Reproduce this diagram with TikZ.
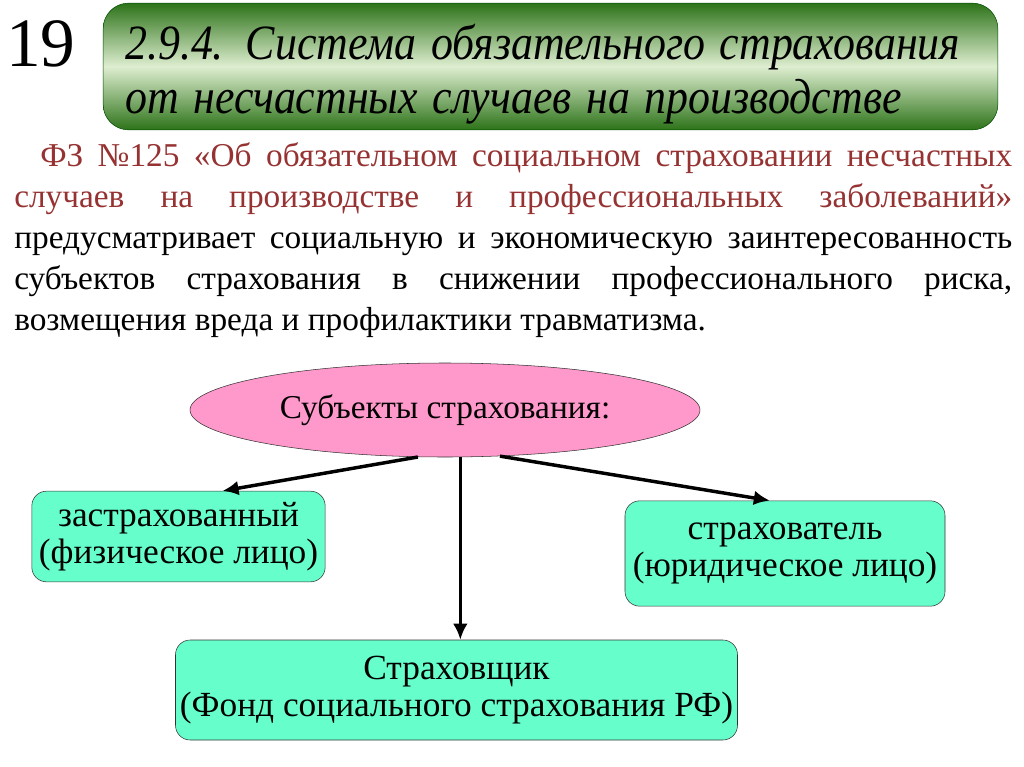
\documentclass[tikz,border=0pt]{standalone}
\usepackage{fontspec}
\setmainfont{Liberation Serif}
\usetikzlibrary{arrows.meta,positioning,shapes.geometric}
\definecolor{fzred}{RGB}{150,50,50}
\definecolor{boxaqua}{RGB}{102,255,204}
\definecolor{ellpink}{RGB}{255,153,204}
\definecolor{dkgreen}{RGB}{45,115,25}
\definecolor{ltgreen}{RGB}{222,238,208}

\begin{document}
\begin{tikzpicture}[x=0.75pt,y=-0.75pt,
  subj/.style={draw=black!80,fill=boxaqua,rounded corners=11pt,align=center,
    font=\fontsize{26.5}{28}\selectfont},
  arr/.style={line width=2.6pt,-{Latex[length=12pt,width=11pt]}}]
\useasboundingbox (0,0) rectangle (1024,767);
\node (num) at (41,44) {\fontsize{52}{52}\selectfont 19};
\node[draw=black!70!green,top color=dkgreen,bottom color=dkgreen,middle color=ltgreen,
  rounded corners=19pt,minimum width=671pt,minimum height=95pt,text width=638pt,
  align=left,inner xsep=16.5pt,inner ysep=0pt,font=\fontsize{37}{40}\selectfont\itshape] (ttl) at (550.5,66.5)
  {\rule{0pt}{38pt}\scalebox{0.89}[1]{2.9.4. Система обязательного страхования}\\
   \scalebox{0.89}[1]{от несчастных случаев на производстве}};
\node[anchor=north west,inner sep=0,text width=748.5pt,align=justify,
  font=\fontsize{25}{30.75}\selectfont] (txt) at (14,142)
  {\color{fzred}\hspace*{19.5pt}ФЗ №125 «Об обязательном социальном страховании несчастных\linebreak
   случаев на производстве и профессиональных заболеваний»\linebreak
   \color{black}предусматривает социальную и экономическую заинтересованность\linebreak
   субъектов страхования в снижении профессионального риска,\linebreak
   возмещения вреда и профилактики травматизма.};
\node[ellipse,draw=black!80,fill=ellpink,minimum width=382.5pt,minimum height=70.5pt,
  inner sep=0,font=\fontsize{25}{28}\selectfont] (ell) at (445,410) {Субъекты страхования:};
\node[subj,minimum width=220pt,minimum height=68pt] (zas) at (178.5,536.5)
  {застрахованный\\(физическое лицо)};
\node[subj,minimum width=240pt,minimum height=79pt] (stv) at (785,553.5)
  {страхователь\\(юридическое лицо)};
\node[subj,minimum width=418pt,minimum height=75pt] (stq) at (456.5,690)
  {Страховщик\\(Фонд социального страхования РФ)};
\draw[arr] (ell.-120) -- (zas.46);
\draw[arr] (ell.-72) -- (ell.-72 |- stq.north);
\draw[arr] (ell.-40) -- (stv.106);
\end{tikzpicture}
\end{document}
